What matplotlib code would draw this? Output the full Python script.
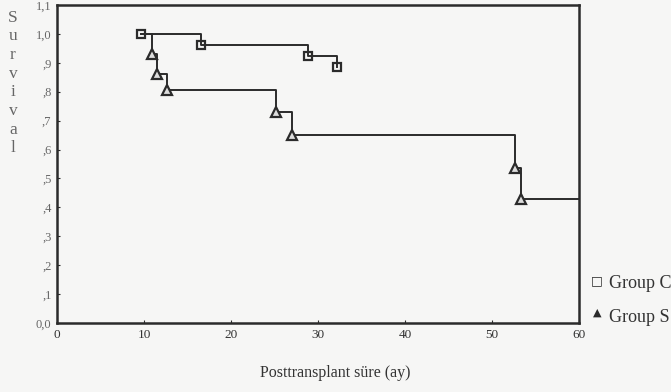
import matplotlib
matplotlib.use("Agg")
import matplotlib.pyplot as plt

plt.rcParams['font.family'] = ['Liberation Serif', 'DejaVu Serif']

# Kaplan-Meier steps
c_time = [9.7, 16.6, 28.8, 32.2]
c_surv = [1.0, 0.96, 0.925, 0.885]

s_time = [9.7, 10.9, 11.5, 12.6, 25.2, 27.0, 52.6, 53.3]
s_surv = [1.0, 0.93, 0.86, 0.805, 0.73, 0.65, 0.535, 0.43]
s_end = 60

x_ticks = [0, 10, 20, 30, 40, 50, 60]
y_ticks = [0.0, 0.1, 0.2, 0.3, 0.4, 0.5, 0.6, 0.7, 0.8, 0.9, 1.0, 1.1]
y_tick_labels = ["0,0", ",1", ",2", ",3", ",4", ",5", ",6", ",7", ",8", ",9", "1,0", "1,1"]

line_col = '#2b2b2b'
bg = '#f6f6f5'

fig = plt.figure(figsize=(6.71, 3.92), dpi=100, facecolor=bg)
ax = fig.add_axes([57/671, 1-323/392, 522/671, 318/392])
ax.set_facecolor(bg)

# group C
ax.step(c_time, c_surv, where='post', color=line_col, lw=1.4)
ax.plot(c_time, c_surv, ls='none', marker='s', ms=6, mfc='none', mec=line_col, mew=1.6)

# group S
ax.step(s_time + [s_end], s_surv + [s_surv[-1]], where='post', color=line_col, lw=1.4)
ax.plot(s_time[1:], s_surv[1:], ls='none', marker='^', ms=6.5, mfc='#dddddd', mec=line_col, mew=1.6)

ax.set_xlim(0, 60)
ax.set_ylim(0, 1.1)
ax.set_xticks(x_ticks)
ax.set_xticklabels([str(v) for v in x_ticks], fontsize=9.5, color='#333333')
ax.set_yticks(y_ticks)
ax.set_yticklabels(y_tick_labels, fontsize=9, color='#666666')
ax.tick_params(direction='in', length=2, width=0.8, color=line_col, pad=4)
for sp in ax.spines.values():
    sp.set_color(line_col)
    sp.set_linewidth(1.8)

# vertical stacked y label
fig.text(13/671, 1-83/392, "\n".join("Survival"), ha='center', va='center',
         fontsize=12.5, color='#666666', linespacing=1.22)

fig.text(335/671, 1-373/392, "Posttransplant süre (ay)", ha='center', va='center',
         fontsize=11.5, color='#333333')

# legend outside the frame, clipped at the right edge like the scan
fig.text(597/671, 1-281/392, "\u25a1", ha='center', va='center', fontsize=9,
         family='DejaVu Sans', color=line_col)
fig.text(609/671, 1-283/392, "Group C", ha='left', va='center', fontsize=13, color='#333333')
fig.text(597/671, 1-313/392, "\u25b2", ha='center', va='center', fontsize=8,
         family='DejaVu Sans', color=line_col)
fig.text(609/671, 1-317/392, "Group S", ha='left', va='center', fontsize=13, color='#333333')

fig.savefig("out.png", dpi=100, facecolor=bg)
